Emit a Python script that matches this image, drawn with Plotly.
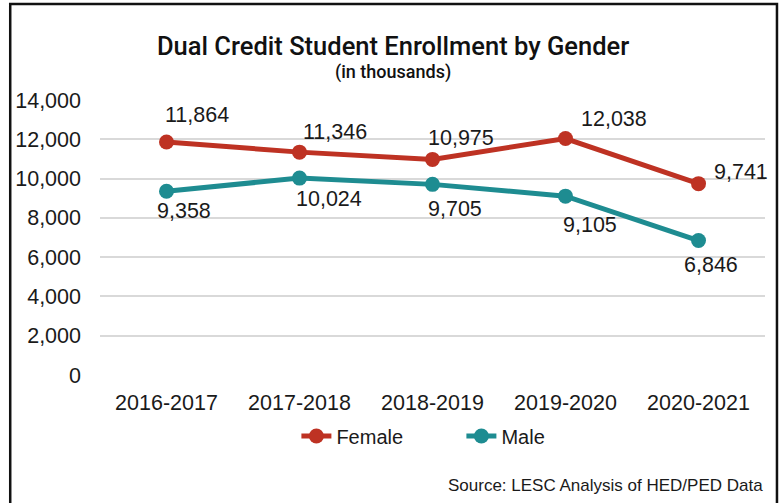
import plotly.graph_objects as go

# data
years = ["2016-2017", "2017-2018", "2018-2019", "2019-2020", "2020-2021"]
female = [11864, 11346, 10975, 12038, 9741]
male = [9358, 10024, 9705, 9105, 6846]

# label offsets (px) relative to each marker, as placed in the original
female_shift = [(30, 27), (35, 20), (28, 21), (48, 20), (42, 12)]
male_shift = [(17, -20), (29, -21), (22, -25), (24, -29), (12, -24)]

RED = "#BE3223"
TEAL = "#1E8C91"
SANS = "Liberation Sans, Arial, sans-serif"
LABEL_FONT = dict(family=SANS, size=21.5, color="#1a1a1a")
HEAD_FONT = "Roboto, Liberation Sans, sans-serif"

fig = go.Figure()
fig.add_trace(go.Scatter(x=years, y=female, name="Female", mode="lines+markers",
                         line=dict(color=RED, width=5), marker=dict(size=15, color=RED)))
fig.add_trace(go.Scatter(x=years, y=male, name="Male", mode="lines+markers",
                         line=dict(color=TEAL, width=5), marker=dict(size=15, color=TEAL)))

annotations = []
for vals, shifts in [(female, female_shift), (male, male_shift)]:
    for x, v, (dx, dy) in zip(years, vals, shifts):
        annotations.append(dict(x=x, y=v, text=f"{v:,}", showarrow=False,
                                xshift=dx, yshift=dy, font=LABEL_FONT))

# subtitle + source note
annotations.append(dict(xref="paper", yref="paper", x=0.44, y=1.102, yanchor="middle",
                        text="(in thousands)", showarrow=False,
                        font=dict(family=HEAD_FONT, size=18, color="#111", weight=500)))
annotations.append(dict(xref="paper", yref="paper", x=1.0, y=-0.4, xanchor="right", yanchor="middle",
                        text="Source: LESC Analysis of HED/PED Data", showarrow=False,
                        font=dict(family=SANS, size=17, color="#1a1a1a")))

fig.update_layout(
    width=780, height=503,
    margin=dict(l=100, r=15, t=100, b=128, autoexpand=False),
    paper_bgcolor="white", plot_bgcolor="white",
    title=dict(text="Dual Credit Student Enrollment by Gender", x=0.504, xanchor="center",
               y=0.909, yanchor="middle",
               font=dict(family=HEAD_FONT, size=25.5, color="#111", weight=500)),
    font=LABEL_FONT,
    xaxis=dict(range=[-0.5, len(years) - 0.5], showgrid=False, showline=False, ticks="",
               ticklabelstandoff=12, tickfont=LABEL_FONT),
    yaxis=dict(range=[0, 14000], dtick=2000, tickformat=",", showgrid=True, gridcolor="#d9d9d9",
               gridwidth=1.5, zeroline=False, showline=False, ticks="", ticklabelstandoff=18,
               tickfont=LABEL_FONT),
    legend=dict(orientation="h", xref="container", yref="container", x=0.38, xanchor="left",
                y=1 - 436 / 503, yanchor="middle", entrywidth=120,
                font=dict(family=SANS, size=20, color="#1a1a1a")),
    annotations=annotations,
    shapes=[dict(type="rect", xref="paper", yref="paper", x0=-0.135, x1=1.018, y0=-0.6, y1=1.349,
                 line=dict(color="#111", width=2.5))],
    showlegend=True,
)

# drop the browser's default body margin so the figure sits at the window corner
fig.write_html("out.html", config={"displayModeBar": False},
               post_script="document.body.style.margin='0';")
